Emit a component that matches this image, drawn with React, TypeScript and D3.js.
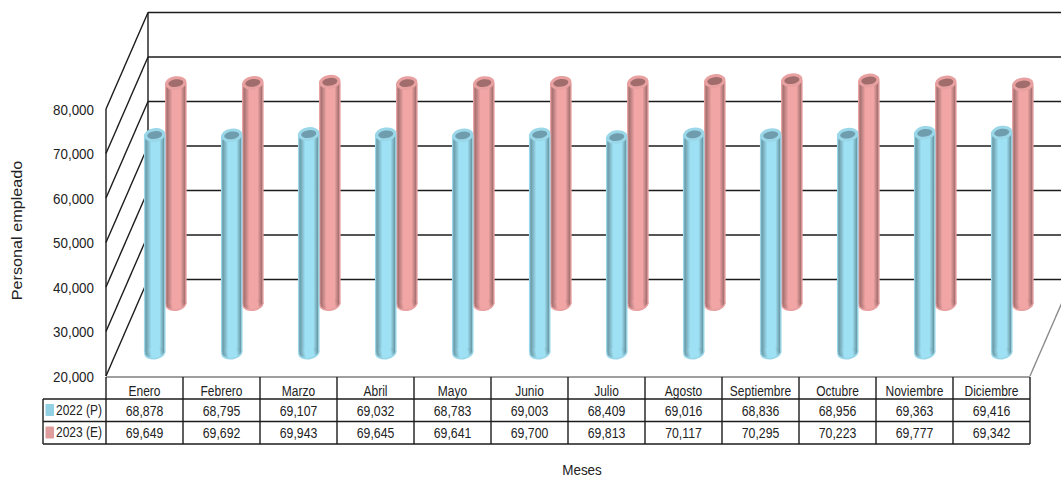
import React from "react";
import * as d3 from "d3";

const categories = ["Enero","Febrero","Marzo","Abril","Mayo","Junio","Julio","Agosto","Septiembre","Octubre","Noviembre","Diciembre"];
const values2022 = [68878,68795,69107,69032,68783,69003,68409,69016,68836,68956,69363,69416];
const values2023 = [69649,69692,69943,69645,69641,69700,69813,70117,70295,70223,69777,69342];
const seriesNames = ["2022 (P)","2023 (E)"];
const yTicks = [20000,30000,40000,50000,60000,70000,80000];

const W = 1061, H = 477;
const FONT = "'Liberation Sans', Arial, sans-serif";
const frontL = 106, frontR = 1030, frontBottom = 376, frontTop = 109;
const depthX = 42, depthY = 96.5;
const x = d3.scaleBand<string>().domain(categories).range([frontL, frontR]);
const y = d3.scaleLinear().domain([20000, 80000]).range([frontBottom, frontTop]);
const fmt = d3.format(",");
const depths = [23.5 / depthY, 72 / depthY];
const palettes = [
  { id: "b", edge: "#66939f", mid: "#9fe1f4", rim: "#9ad7e9", hole: "#6f9dad", swatch: "#92d1e4" },
  { id: "p", edge: "#9c6a6a", mid: "#f1a5a5", rim: "#e8a0a0", hole: "#a06c6c", swatch: "#df9c9c" },
];

function Cyl({ cat, v, s }: { cat: string; v: number; s: number }) {
  const p = palettes[s];
  const d = depths[s];
  const cx = x(cat)! + x.bandwidth() / 2 + depthX * d;
  const top = y(v) - depthY * d;
  const bot = frontBottom - depthY * d;
  const r = 10.8, ri = 9.4;
  const rot = `rotate(-8 ${cx} ${top})`;
  const rotB = `rotate(-8 ${cx} ${bot})`;
  return (
    <g filter="url(#soft)">
      <rect x={cx - r} y={top} width={2 * r} height={bot - top} fill={p.rim} />
      <ellipse cx={cx} cy={bot} rx={r} ry={7} fill={p.rim} transform={rotB} />
      <rect x={cx - ri} y={top} width={2 * ri} height={bot - top} fill={`url(#g${p.id})`} />
      <ellipse cx={cx} cy={bot} rx={ri} ry={5} fill={`url(#g${p.id})`} transform={rotB} />
      <ellipse cx={cx} cy={top} rx={r} ry={6.8} fill={p.rim} transform={rot} />
      <ellipse cx={cx} cy={top} rx={7.6} ry={3.8} fill={p.hole} transform={rot} />
    </g>
  );
}

function T(props: any) {
  const { x: tx, y: ty, children, sx = 0.82, anchor = "middle", size = 15 } = props;
  return (
    <text transform={`translate(${tx},${ty}) scale(${sx},1)`} textAnchor={anchor} fontSize={size} fontFamily={FONT} fill="#222">
      {children}
    </text>
  );
}

export default function App() {
  const tableRows = [377, 399, 421.5, 444];
  const tableLeft = 43;
  const lineCol = "#1c1c1c";
  return (
    <svg width={W} height={H} style={{ position: "absolute", left: 0, top: 0, background: "#fff" }}>
      <defs>
        <filter id="soft" x="-20%" y="-5%" width="140%" height="110%">
          <feGaussianBlur stdDeviation="0.5" />
        </filter>
        {palettes.map((p) => (
          <linearGradient key={p.id} id={`g${p.id}`} x1="0" x2="1" y1="0" y2="0">
            <stop offset="0" stopColor={p.edge} />
            <stop offset="0.32" stopColor={p.mid} />
            <stop offset="0.75" stopColor={p.mid} />
            <stop offset="1" stopColor={p.edge} />
          </linearGradient>
        ))}
      </defs>

      {/* back wall + side wall gridlines */}
      {yTicks.map((t) => (
        <g key={t} stroke={lineCol} strokeWidth={1.4} fill="none">
          <line x1={frontL + depthX} y1={y(t) - depthY} x2={W} y2={y(t) - depthY} />
          <line x1={frontL} y1={y(t)} x2={frontL + depthX} y2={y(t) - depthY} />
        </g>
      ))}
      <line x1={frontL + depthX} y1={y(80000) - depthY} x2={frontL + depthX} y2={y(20000) - depthY} stroke={lineCol} strokeWidth={1.4} />
      <line x1={frontL} y1={y(80000)} x2={frontL} y2={y(20000)} stroke={lineCol} strokeWidth={1.4} />
      <line x1={frontR} y1={frontBottom} x2={frontR + depthX} y2={frontBottom - depthY} stroke="#8c8c8c" strokeWidth={1.4} />

      {/* cylinders: back series first */}
      {categories.map((c, i) => <Cyl key={c} cat={c} v={values2023[i]} s={1} />)}
      {categories.map((c, i) => <Cyl key={c} cat={c} v={values2022[i]} s={0} />)}

      {/* y tick labels */}
      {yTicks.map((t) => (
        <T key={t} x={94} y={y(t) + 5.5} anchor="end" size={15.5} sx={0.865}>{fmt(t)}</T>
      ))}

      {/* data table */}
      <line x1={frontL} x2={frontR} y1={tableRows[0]} y2={tableRows[0]} stroke="#7f7f7f" strokeWidth={1.3} />
      {[tableRows[1], tableRows[2], tableRows[3]].map((ry) => (
        <line key={ry} x1={tableLeft} x2={frontR} y1={ry} y2={ry} stroke={lineCol} strokeWidth={1.4} />
      ))}
      <line x1={tableLeft} x2={tableLeft} y1={tableRows[1]} y2={tableRows[3]} stroke={lineCol} strokeWidth={1.4} />
      {[...categories.map((c) => x(c)!), frontR].map((lx) => (
        <line key={lx} x1={lx} x2={lx} y1={tableRows[0]} y2={tableRows[3]} stroke={lineCol} strokeWidth={1.4} />
      ))}
      {categories.map((c, i) => {
        const cx = x(c)! + x.bandwidth() / 2;
        return (
          <g key={c}>
            <T x={cx} y={396} size={15} sx={0.8}>{c}</T>
            <T x={cx} y={415.5}>{fmt(values2022[i])}</T>
            <T x={cx} y={438}>{fmt(values2023[i])}</T>
          </g>
        );
      })}
      {seriesNames.map((n, i) => (
        <g key={n}>
          <rect x={45.5} y={404 + i * 22.5} width={8.5} height={12} rx={1} fill={palettes[i].swatch} />
          <T x={56} y={414.5 + i * 22.5} anchor="start" size={15} sx={0.8}>{n}</T>
        </g>
      ))}

      {/* axis titles */}
      <text transform="translate(22,230.5) rotate(-90) scale(1,0.87)" textAnchor="middle" fontSize={16.2} fontFamily={FONT} fill="#222">Personal empleado</text>
      <T x={582} y={475} size={15.5} sx={0.87}>Meses</T>
    </svg>
  );
}
